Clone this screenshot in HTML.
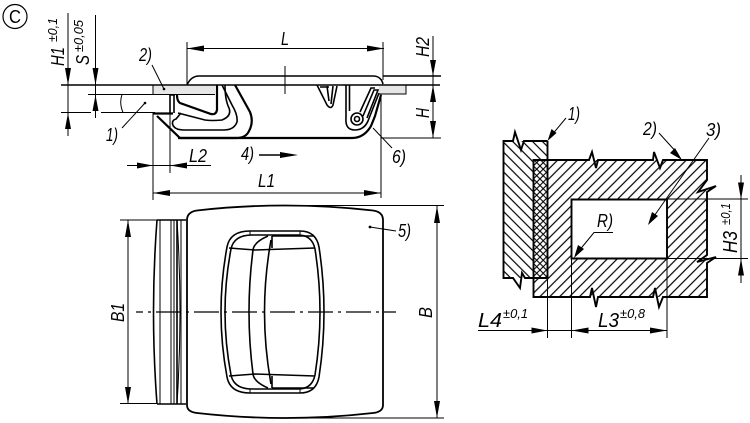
<!DOCTYPE html>
<html><head><meta charset="utf-8">
<style>
html,body{margin:0;padding:0;background:#fff;width:750px;height:423px;overflow:hidden}
svg{display:block}
text{font-family:"Liberation Sans",sans-serif;font-style:italic;fill:#000;font-size:18px}
.n{font-size:18px}
.s{font-size:13px}
.t{stroke:#000;stroke-width:1;fill:none}
.m{stroke:#000;stroke-width:1.6;fill:none}
.h{stroke:#000;stroke-width:2.2;fill:none}
</style></head><body>
<svg width="750" height="423" viewBox="0 0 750 423" xmlns="http://www.w3.org/2000/svg">
<defs>
<pattern id="f" width="7" height="7" patternUnits="userSpaceOnUse" patternTransform="rotate(45)"><line x1="3.5" y1="0" x2="3.5" y2="7" stroke="#000" stroke-width="1.2"/></pattern>
<pattern id="b" width="7" height="7" patternUnits="userSpaceOnUse" patternTransform="rotate(-45)"><line x1="3.5" y1="0" x2="3.5" y2="7" stroke="#000" stroke-width="1.2"/></pattern>
<pattern id="c1" width="4.6" height="4.6" patternUnits="userSpaceOnUse" patternTransform="rotate(45)"><line x1="2.3" y1="0" x2="2.3" y2="4.6" stroke="#000" stroke-width="1.1"/></pattern>
<pattern id="c2" width="4.6" height="4.6" patternUnits="userSpaceOnUse" patternTransform="rotate(-45)"><line x1="2.3" y1="0" x2="2.3" y2="4.6" stroke="#000" stroke-width="1.1"/></pattern>
</defs>
<rect width="750" height="423" fill="#fff"/>

<!-- C marker -->
<circle cx="15" cy="16.5" r="12" class="t" style="stroke-width:1.2"/>
<text x="9" y="23" textLength="12" lengthAdjust="spacingAndGlyphs" style="font-style:normal;font-size:18px">C</text>

<!-- H1 / S dims -->
<path class="t" d="M68 13V136M95.5 15V118M61 112.5H91M101 112.5H155M88 94.5H215M122 94.5Q119 103 123 112.5"/>
<path class="m" d="M61 85H187"/>
<path d="M68 85l-3-17h6zM68 113l-3 16h6zM95.5 85l-3-17h6zM95.5 95l-3 16h6z"/>
<text transform="translate(64,66) rotate(-90)" textLength="19" lengthAdjust="spacingAndGlyphs">H1</text>
<text class="s" transform="translate(57,42) rotate(-90)" textLength="24" lengthAdjust="spacingAndGlyphs">±0,1</text>
<text transform="translate(89,65) rotate(-90)" textLength="10" lengthAdjust="spacingAndGlyphs">S</text>
<text class="s" transform="translate(83,52) rotate(-90)" textLength="32" lengthAdjust="spacingAndGlyphs">±0,05</text>

<!-- plates -->
<rect x="153" y="86" width="62" height="8" fill="#e6e6e6"/>
<rect x="379" y="86" width="27" height="8" fill="#e6e6e6"/>
<path class="t" d="M153 85V94M406 85V94H379"/>

<!-- leaders -->
<path class="t" d="M145 103L122 128M152 65L164 89M373 128L392 148"/>
<circle cx="145" cy="103" r="1.3"/><circle cx="164" cy="89" r="1.3"/>
<text x="106" y="141" class="n" textLength="12" lengthAdjust="spacingAndGlyphs">1)</text>
<text x="139" y="61" class="n" textLength="13" lengthAdjust="spacingAndGlyphs">2)</text>
<text x="392" y="163" class="n" textLength="14" lengthAdjust="spacingAndGlyphs">6)</text>

<!-- L dim -->
<path class="t" d="M187 42V85M383 42V80M187 48.5H384"/>
<path d="M187 48.5l17-3v6zM384 48.5l-17-3v6z"/>
<text x="281" y="45" textLength="8" lengthAdjust="spacingAndGlyphs">L</text>

<!-- body top -->
<path class="m" d="M187 85H440M187 85Q191 76 199 76H373Q381 76 383 84M383 76H441"/>
<path class="t" d="M285 66V94"/>

<!-- H2, H -->
<path class="t" d="M433 36V138M381 138H441"/>
<path d="M433 76l-3-16h6zM433 85l-3 17h6zM433 138l-3-17h6z"/>
<text transform="translate(429,57) rotate(-90)" textLength="20" lengthAdjust="spacingAndGlyphs">H2</text>
<text transform="translate(429,118) rotate(-90)" textLength="10" lengthAdjust="spacingAndGlyphs">H</text>

<!-- left latch -->
<path class="h" d="M153 113.5H173"/>
<path class="h" d="M235 85L250 112Q254 122 249 131Q246 138 236 138H180L157 116"/>
<path class="m" d="M222 85L232 105Q238 115 237 122Q234 130 224 130H184Q174 130 172.500 124Q172 120 176 119L181 113"/>
<path class="m" d="M178 113L205 120Q212 121 222 120Q232 116 229 108Q225 100 225 85"/>
<path class="h" d="M217 85V110Q216 115 211 114L180 103Q177 101 177 95"/>
<path class="m" d="M170 95V113M174 95V113M170 95H175"/>

<!-- center clip -->
<path class="m" d="M317 85L327 105Q331 110 333 105L337 86M327 86L329 101M320 87H329"/>
<path class="m" d="M333 86L331 104"/>

<!-- right spring -->
<path class="m" d="M346 85V118M349.500 85V111"/>
<circle cx="357" cy="119" r="2.5" class="m"/>
<circle cx="357" cy="119" r="6" class="m"/>
<path class="m" d="M346 118Q345 130 355 130Q364 130 368 121L379 93M363 116L374 90L378 90L367 118M360 112L371 88L375 88"/>
<path class="h" d="M352 138H178M352 138Q364 138 371 126L375 116L381 95"/>
<path class="t" d="M381 94V198"/>

<!-- L2 L1 4) -->
<path class="t" d="M153 113V200M170 113V173M127 165.500H211M153 193H381"/>
<path d="M153 165.500l-16-3v6zM170 165.500l17-3v6zM153 193l17-3v6zM381 193l-17-3v6z"/>
<text x="189" y="162" textLength="18" lengthAdjust="spacingAndGlyphs">L2</text>
<text x="258" y="187" textLength="17" lengthAdjust="spacingAndGlyphs">L1</text>
<text x="241" y="160" class="n" textLength="13" lengthAdjust="spacingAndGlyphs">4)</text>
<path class="m" d="M259 155H285"/>
<path d="M298 155l-18-3v6z"/>

<!-- plan view -->
<path class="h" style="stroke-width:1.8" d="M187 220Q187 212 197 210.500Q285 200.500 373 210.500Q383 212 383 220V405Q383 412 373 413Q285 423 197 413Q187 412 187 405Z"/>
<path class="t" d="M285 205.500H444M285 418H444M120 220H157M120 403.500H157"/>
<path class="t" d="M437 206V418M128 220V404"/>
<path d="M437 206l-3 17h6zM437 418l-3-17h6zM128 220l-3 17h6zM128 404l-3-17h6z"/>
<text transform="translate(432,318) rotate(-90)" textLength="11" lengthAdjust="spacingAndGlyphs">B</text>
<text transform="translate(124,322) rotate(-90)" textLength="19" lengthAdjust="spacingAndGlyphs">B1</text>
<path class="m" d="M157 220H186M157 404H186"/>
<path class="m" d="M157 220Q150 312 157 404"/>
<path class="t" d="M160 220V404M171 220V404M174 220V404"/>
<path class="m" d="M177 220V404"/>
<path class="t" d="M177 220Q183 312 177 404M181 220V404"/>
<path class="t" stroke-dasharray="25 5 3 5" stroke-dashoffset="18" d="M136 312H396" style="stroke-width:1.2"/>

<!-- window -->
<path class="m" d="M250 231H300Q316 231 319 247Q329 312 319 377Q316 393 300 393H250Q230 393 227 377Q215 312 227 247Q230 231 250 231Z"/>
<path class="m" d="M252 235H298Q312 235 315 249Q325 312 315 375Q312 389 298 389H252Q234 389 231 375Q219 312 231 249Q234 235 252 235Z"/>
<path class="m" d="M229 248L255 250L315 248M229 376L255 374L315 376"/>
<path class="m" d="M272 236H314M272 388H314M272 236V248M272 376V388"/>
<path class="m" d="M268 236Q254 242 253 250Q245 312 253 374Q254 382 268 388"/>
<path class="m" d="M271 240Q258 312 271 384"/>
<path class="t" d="M250 231V235M300 231V235M250 389V393M300 389V393"/>
<path class="t" d="M370 227L396 231"/>
<circle cx="370" cy="227" r="1.4"/>
<text x="398" y="237" class="n" textLength="13" lengthAdjust="spacingAndGlyphs">5)</text>

<!-- section view: fills -->
<path fill="url(#b)" d="M504 141H547V278H504Z"/>
<path fill="url(#f)" fill-rule="evenodd" d="M533 160H707V297H533ZM571.500 199.500H667V258.500H571.500Z"/>
<rect x="533.500" y="160" width="14" height="118" fill="#fff"/>
<rect x="533.500" y="160" width="14" height="118" fill="url(#c1)"/>
<rect x="533.500" y="160" width="14" height="118" fill="url(#c2)"/>

<!-- section outlines -->
<path class="m" style="stroke-width:1.9" d="M547.500 141H524L521 150L515 132L513 141H503.500V278H513L520 288L522 273L525 278H547.500"/>
<path class="m" style="stroke-width:1.9" d="M533.500 278V297H590L592 288L596 307L598 297H653L655 288L659 307L663 297H707V263L716 257L697 262L707 255V192L716 186L698 192L707 180V160H663L660 168L654 152L653 160H598L596 168L592 152L589 160H533.500V278"/>
<path class="m" style="stroke-width:1.9" d="M571.500 199.500H667V258.500H571.500Z"/>
<path class="m" style="stroke-width:1.9" d="M547.500 141V278"/>
<path class="t" d="M667 199V338M571.500 258V338M547.500 278V338M667 199H748M667 258.500H748M741 175V283"/>
<path d="M741 199.500l-3-17h6zM741 258.500l-3 17h6z"/>

<!-- section labels -->
<path class="t" d="M566 118L551 136M659 133L678 154M709 138L652 219M613 232.500H594L578 252M478 330.500H667"/>
<path d="M547.500 141l4-12 5 4zM682 160l-12-7 5-5zM648 225l4-13 6 4zM574 258l4-13 6 4zM547.500 330.500l-16-3v6zM571.500 330.500l17-3v6zM667 330.500l-17-3v6z"/>
<text x="568" y="120" class="n" textLength="12" lengthAdjust="spacingAndGlyphs">1)</text>
<text x="643" y="135" class="n" textLength="14" lengthAdjust="spacingAndGlyphs">2)</text>
<text x="706" y="136" class="n" textLength="15" lengthAdjust="spacingAndGlyphs">3)</text>
<text x="597" y="227" class="n" textLength="16" lengthAdjust="spacingAndGlyphs">R)</text>
<text x="478" y="327" textLength="24" lengthAdjust="spacingAndGlyphs" style="font-size:20px">L4</text>
<text x="503" y="318" class="s" textLength="25" lengthAdjust="spacingAndGlyphs">±0,1</text>
<text x="598" y="327" textLength="21" lengthAdjust="spacingAndGlyphs" style="font-size:20px">L3</text>
<text x="620" y="318" class="s" textLength="25" lengthAdjust="spacingAndGlyphs">±0,8</text>
<text transform="translate(737,253) rotate(-90)" textLength="22" lengthAdjust="spacingAndGlyphs" style="font-size:20px">H3</text>
<text class="s" transform="translate(730,225) rotate(-90)" textLength="22" lengthAdjust="spacingAndGlyphs">±0,1</text>
</svg>
</body></html>
